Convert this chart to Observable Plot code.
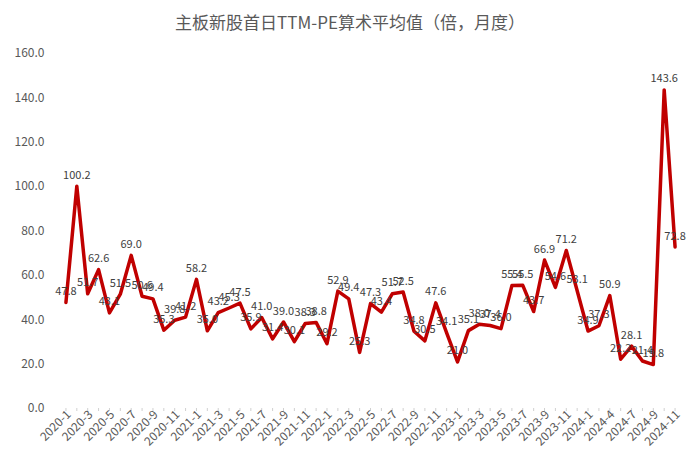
<!DOCTYPE html>
<html>
<head>
<meta charset="utf-8">
<script src="https://cdn.jsdelivr.net/npm/d3@7"></script>
<script src="https://cdn.jsdelivr.net/npm/@observablehq/plot@0.6"></script>
<style>
  html, body { margin: 0; padding: 0; background: #fff; }
  #wrap { position: relative; width: 700px; height: 463px; font-family: "Noto Sans CJK SC", "Noto Sans", sans-serif; }
  #title { position: absolute; left: 0; top: 9px; width: 700px; text-align: center; font-size: 17px; line-height: 26px; color: #595959; }
  #chart { position: absolute; left: 0; top: 0; }
</style>
</head>
<body>
<div id="wrap">
  <div id="chart"></div>
  <div id="title">主板新股首日TTM-PE算术平均值（倍，月度）</div>
</div>
<script>
const titleText = "主板新股首日TTM-PE算术平均值（倍，月度）";

const months = [
  "2020-1","2020-2","2020-3","2020-4","2020-5","2020-6","2020-7","2020-8","2020-9","2020-10","2020-11","2020-12",
  "2021-1","2021-2","2021-3","2021-4","2021-5","2021-6","2021-7","2021-8","2021-9","2021-10","2021-11","2021-12",
  "2022-1","2022-2","2022-3","2022-4","2022-5","2022-6","2022-7","2022-8","2022-9","2022-10","2022-11","2022-12",
  "2023-1","2023-2","2023-3","2023-4","2023-5","2023-6","2023-7","2023-8","2023-9","2023-10","2023-11","2023-12",
  "2024-1","2024-3","2024-4","2024-6","2024-7","2024-8","2024-9","2024-10","2024-11"
];

const peValues = [
  47.8, 100.2, 51.7, 62.6, 43.1, 51.5, 69.0, 50.6, 49.4, 35.3, 39.8, 41.2,
  58.2, 35.0, 43.2, 45.3, 47.5, 35.9, 41.0, 31.4, 39.0, 30.1, 38.3, 38.8,
  29.2, 52.9, 49.4, 25.3, 47.3, 43.4, 51.7, 52.5, 34.8, 30.5, 47.6, 34.1,
  21.0, 35.1, 38.0, 37.4, 36.0, 55.4, 55.5, 43.7, 66.9, 54.6, 71.2, 53.1,
  34.9, 37.3, 50.9, 22.2, 28.1, 21.4, 19.8, 143.6, 72.8
];

const xTickLabels = [
  "2020-1","2020-3","2020-5","2020-7","2020-9","2020-11",
  "2021-1","2021-3","2021-5","2021-7","2021-9","2021-11",
  "2022-1","2022-3","2022-5","2022-7","2022-9","2022-11",
  "2023-1","2023-3","2023-5","2023-7","2023-9","2023-11",
  "2024-1","2024-4","2024-7","2024-9","2024-11"
];

const yTicks = [0, 20, 40, 60, 80, 100, 120, 140, 160];

const data = months.map((m, i) => ({month: m, value: peValues[i]}));
const fontFam = '"Noto Sans CJK SC", "Noto Sans", sans-serif';

const chart = Plot.plot({
  width: 700,
  height: 463,
  marginTop: 53,
  marginBottom: 55,
  marginLeft: 60,
  marginRight: 20,
  style: { fontFamily: fontFam, background: "white", overflow: "visible" },
  x: { type: "point", domain: months, padding: 0.5, label: null },
  y: { domain: [0, 160], label: null },
  marks: [
    Plot.axisY({ ticks: yTicks, tickFormat: d3.format(".1f"), tickSize: 0, tickPadding: 16, fontSize: 12, fill: "#595959", label: null }),
    Plot.ruleY([0], { stroke: "#d9d9d9", strokeWidth: 1, x1: months[0], x2: months[months.length - 1], insetLeft: -5.4, insetRight: -5.4 }),
    Plot.axisX({ ticks: months, tickFormat: () => "", tickSize: 3, stroke: "#d0d0d0", label: null }),
    Plot.axisX({ ticks: xTickLabels, tickSize: 0, tickPadding: 4, tickRotate: -45, fontSize: 12, fill: "#595959", label: null, dx: 3 }),
    Plot.line(data, { x: "month", y: "value", stroke: "#c00000", strokeWidth: 3.5, strokeLinejoin: "round", strokeLinecap: "round" }),
    Plot.text(data, { x: "month", y: "value", text: d => d3.format(".1f")(d.value), dy: -11, fontSize: 11, fill: "#404040" })
  ]
});
document.getElementById("chart").appendChild(chart);
</script>
</body>
</html>
